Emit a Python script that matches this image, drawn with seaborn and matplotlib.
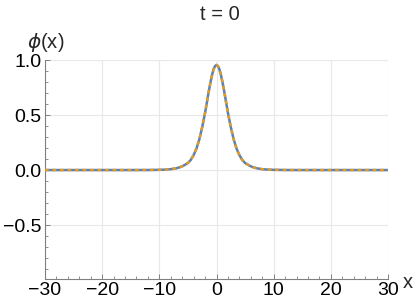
import matplotlib
matplotlib.use("Agg")
import matplotlib.pyplot as plt
import seaborn as sns
import pandas as pd
from matplotlib.ticker import MultipleLocator

# Data
x_vals = [-30, -25, -20, -15, -12, -10, -9, -8, -7.5, -7, -6.5, -6, -5.5, -5, -4.5, -4,
          -3.5, -3, -2.5, -2, -1.5, -1.25, -1, -0.75, -0.5, -0.25, 0, 0.25, 0.5, 0.75,
          1, 1.25, 1.5, 2, 2.5, 3, 3.5, 4, 4.5,
          5, 5.5, 6, 6.5, 7, 7.5, 8, 9, 10, 12, 15, 20, 25, 30]
phi_vals = [0.0, 0.0, 0.0, 0.0, 0.0004, 0.002, 0.004, 0.008, 0.012, 0.017, 0.024, 0.034,
            0.048, 0.064, 0.092, 0.136, 0.196, 0.28, 0.39, 0.52, 0.67, 0.744, 0.81, 0.871,
            0.917, 0.945, 0.955, 0.945, 0.917, 0.871, 0.81, 0.744, 0.67, 0.52, 0.39, 0.28,
            0.196, 0.136, 0.092, 0.064, 0.048, 0.034,
            0.024, 0.017, 0.012, 0.008, 0.004, 0.002, 0.0004, 0.0, 0.0, 0.0, 0.0]
x_major = [-30, -20, -10, 0, 10, 20, 30]
x_labels = ["\u221230", "\u221220", "\u221210", "0", "10", "20", "30"]
y_major = [-0.5, 0.0, 0.5, 1.0]
y_labels = ["\u22120.5", "0.0", "0.5", "1.0"]
title_text = "t = 0"

df = pd.DataFrame({"x": x_vals, "phi": phi_vals})

sns.set_style("white")
plt.rcParams["font.family"] = ["Liberation Sans", "DejaVu Sans"]
plt.rcParams["mathtext.fontset"] = "dejavusans"

W, H = 415, 307
fig = plt.figure(figsize=(W / 100, H / 100), dpi=100)
ax = fig.add_axes([45 / W, 28 / H, (388 - 45) / W, (279 - 60) / H])

sns.lineplot(data=df, x="x", y="phi", ax=ax, color="#5E81B5", linewidth=1.8,
             sort=False, zorder=3)
sns.lineplot(data=df, x="x", y="phi", ax=ax, color="#E19C24", linewidth=1.8,
             sort=False, zorder=4, dashes=False)
ax.lines[-1].set_dashes((1.5, 1.5))

ax.set_xlim(-30, 30)
ax.set_ylim(-0.99, 1.0)
ax.set_xticks(x_major)
ax.set_xticklabels(x_labels)
ax.set_yticks(y_major)
ax.set_yticklabels(y_labels)
ax.xaxis.set_minor_locator(MultipleLocator(2))
ax.yaxis.set_minor_locator(MultipleLocator(0.1))
ax.set_xlabel("")
ax.set_ylabel("")

ax.grid(True, which="major", color="#e8e8e8", linewidth=0.8)
ax.set_axisbelow(True)
for s in ["top", "right"]:
    ax.spines[s].set_visible(False)
for s in ["left", "bottom"]:
    ax.spines[s].set_color("#808080")
    ax.spines[s].set_linewidth(0.8)
ax.tick_params(which="major", direction="in", length=3.3, width=0.7, color="#808080",
               labelsize=14, pad=2.5, labelcolor="black")
ax.tick_params(which="minor", direction="in", length=2.0, width=0.6, color="#808080")
ax.tick_params(axis="x", which="both", bottom=True)
ax.tick_params(axis="y", which="both", left=True)

fig.text(219.5 / W, 1 - 15 / H, title_text, ha="center", va="center", fontsize=14.5)
fig.text(27 / W, 1 - 42 / H, r"$\phi$(x)", ha="left", va="center", fontsize=14.5)
fig.text(403 / W, 1 - 282 / H, "x", ha="left", va="center", fontsize=14.5)

fig.savefig("out.png", dpi=100)
